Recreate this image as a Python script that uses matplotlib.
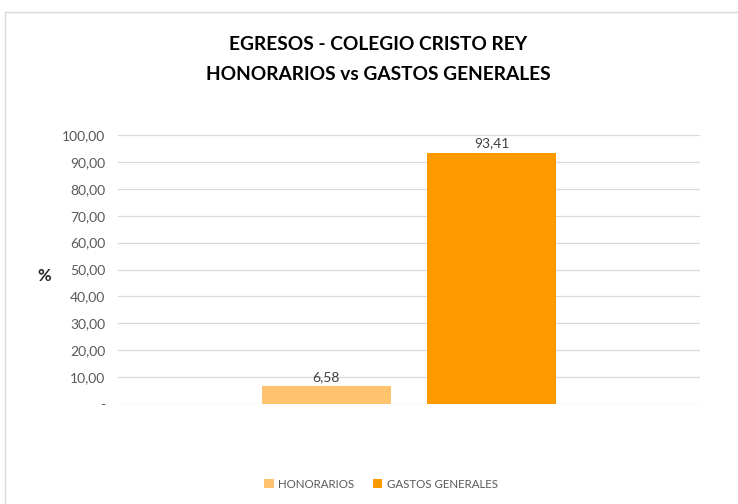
import matplotlib.pyplot as plt
from matplotlib.patches import Rectangle

series = ["HONORARIOS", "GASTOS GENERALES"]
values = [6.58, 93.41]
colors = ["#FFC36E", "#FF9900"]
yticks = [0, 10, 20, 30, 40, 50, 60, 70, 80, 90, 100]

plt.rcParams['font.family'] = ['Lato', 'DejaVu Sans']

fig = plt.figure(figsize=(7.38, 5.04), dpi=100)
ax = fig.add_axes([118 / 738, 1 - 404 / 504, 582 / 738, 269 / 504])

# one category, two series side by side (Excel clustered column)
xpos = [0.358, 0.642]
width = 0.222
bars = []
for x, v, c, name in zip(xpos, values, colors, series):
    b = ax.bar(x, v, width=width, color=c, label=name, zorder=3)
    bars.append(b)
    ax.text(x, v + 1.2, f"{v:.2f}".replace(".", ","), ha="center", va="bottom",
            fontsize=10, color="#404040")

ax.set_xlim(0, 1)
ax.set_ylim(0, 100)
ax.set_yticks(yticks)
ax.set_yticklabels(["-" if t == 0 else f"{t:.2f}".replace(".", ",") for t in yticks])
ax.tick_params(axis="y", length=0, pad=9, labelsize=10, labelcolor="#595959")
ax.set_xticks([])
ax.grid(axis="y", color="#D9D9D9", linewidth=0.9, zorder=0)
for s in ax.spines.values():
    s.set_visible(False)

fig.text(44 / 738, 1 - 276 / 504, "%", ha="center", va="center", fontsize=12,
         fontweight="bold", color="#262626")

fig.text(378 / 738, 1 - 45 / 504, "EGRESOS - COLEGIO CRISTO REY", ha="center",
         va="center", fontsize=13.8, fontweight="bold", color="#000000")
fig.text(378 / 738, 1 - 75 / 504, "HONORARIOS vs GASTOS GENERALES", ha="center",
         va="center", fontsize=13.8, fontweight="bold", color="#000000")

leg = fig.legend(handles=[b[0] for b in bars], labels=series, loc="center",
                 bbox_to_anchor=(381 / 738, 1 - 484 / 504), ncol=2, frameon=False,
                 fontsize=8.3, handlelength=0.8, handleheight=0.8, handletextpad=0.4,
                 columnspacing=1.6)
for t in leg.get_texts():
    t.set_color("#595959")

# light chart border, cut by the image edges
fig.add_artist(Rectangle((5 / 738, -0.1), 1.2, 1.1 - 12 / 504,
                         transform=fig.transFigure, fill=False,
                         edgecolor="#D9D9D9", linewidth=1))

fig.savefig("out.png", dpi=100)
